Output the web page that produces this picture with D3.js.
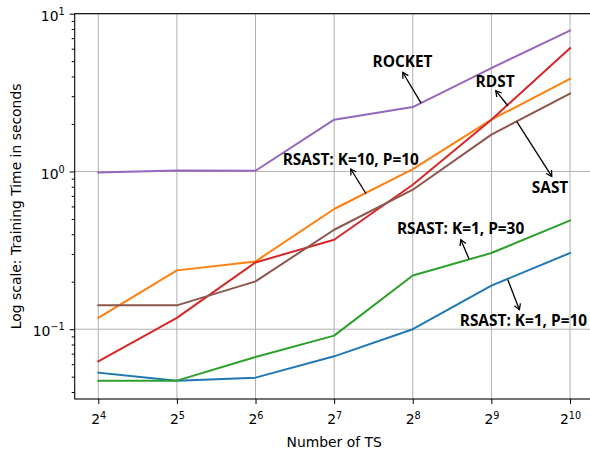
<!DOCTYPE html>
<html>
<head>
<meta charset="utf-8">
<script src="https://cdn.jsdelivr.net/npm/d3@7"></script>
<style>
  body { margin: 0; background: #fff; }
  text { font-family: "DejaVu Sans", sans-serif; }
</style>
</head>
<body>
<script>
// number of time series (x values)
var nTS = [16, 32, 64, 128, 256, 512, 1024];

// training times in seconds, one array per method
var rsastK1P10  = [0.053, 0.0472, 0.0493, 0.0673, 0.100, 0.189, 0.304];
var rsastK10P10 = [0.118, 0.236, 0.269, 0.578, 1.035, 2.13, 3.87];
var rsastK1P30  = [0.0472, 0.0472, 0.0667, 0.091, 0.219, 0.304, 0.489];
var rdst        = [0.0625, 0.118, 0.265, 0.369, 0.824, 2.13, 6.05];
var rocket      = [0.985, 1.015, 1.01, 2.13, 2.56, 4.52, 7.83];
var sast        = [0.1416, 0.1416, 0.201, 0.427, 0.766, 1.71, 3.12];

// y tick values
var yTicks = [0.1, 1, 10];

// annotations: label, point on the line, arrow head, text centre (data coords)
var annLabels = ["ROCKET", "RDST", "SAST", "RSAST: K=10, P=10", "RSAST: K=1, P=30", "RSAST: K=1, P=10"];
var annPoint  = [[2 ** 8.106, 2.71], [2 ** 9.209, 2.61], [2 ** 9.323, 2.07], [2 ** 7.406, 0.722], [2 ** 8.716, 0.2786], [2 ** 9.209, 0.206]];
var annHead   = [[2 ** 7.873, 4.24], [2 ** 9.056, 3.25], [2 ** 9.768, 0.93], [2 ** 7.211, 1.036], [2 ** 8.611, 0.369], [2 ** 9.356, 0.133]];
var annText   = [[2 ** 7.87, 4.98], [2 ** 9.047, 3.72], [2 ** 9.746, 0.796], [2 ** 7.211, 1.186], [2 ** 8.608, 0.433], [2 ** 9.407, 0.1137]];

var series = [
    {values: rsastK1P10,  color: "#1f77b4"},
    {values: rsastK10P10, color: "#ff7f0e"},
    {values: rsastK1P30,  color: "#2ca02c"},
    {values: rdst,        color: "#d62728"},
    {values: rocket,      color: "#9467bd"},
    {values: sast,        color: "#8c564b"}
];

var W = 590, H = 451;
var plotLeft = 74.7, plotRight = 593.6, plotTop = 13.7, plotBottom = 399;

// scales (5% margin on x like matplotlib)
var xScale = d3.scaleLog().base(2)
    .domain([16 * 2 ** -0.3, 1024 * 2 ** 0.3])
    .range([plotLeft, plotRight]);
var yScale = d3.scaleLog()
    .domain([0.0361, 10])
    .range([plotBottom, plotTop]);

var svg = d3.select("body").append("svg")
    .attr("width", W)
    .attr("height", H)
    .style("display", "block");

svg.append("rect").attr("width", W).attr("height", H).attr("fill", "#fff");

// grid
svg.append("g").selectAll("line").data(nTS).enter().append("line")
    .attr("x1", d => xScale(d)).attr("x2", d => xScale(d))
    .attr("y1", plotTop).attr("y2", plotBottom)
    .attr("stroke", "#b0b0b0").attr("stroke-width", 1);
svg.append("g").selectAll("line").data(yTicks).enter().append("line")
    .attr("x1", plotLeft).attr("x2", plotRight)
    .attr("y1", d => yScale(d)).attr("y2", d => yScale(d))
    .attr("stroke", "#b0b0b0").attr("stroke-width", 1);

// lines
var line = d3.line()
    .x((d, i) => xScale(nTS[i]))
    .y(d => yScale(d));

svg.append("g").selectAll("path").data(series).enter().append("path")
    .attr("d", d => line(d.values))
    .attr("fill", "none")
    .attr("stroke", d => d.color)
    .attr("stroke-width", 2)
    .attr("stroke-linejoin", "round")
    .attr("stroke-linecap", "square");

// x axis
var xAxis = d3.axisBottom(xScale).tickValues(nTS).tickSize(5).tickPadding(4).tickFormat("");
var gx = svg.append("g").attr("transform", "translate(0," + plotBottom + ")").call(xAxis);
gx.select(".domain").remove();
gx.selectAll(".tick line").attr("stroke", "#000");
gx.selectAll(".tick").append("text")
    .attr("y", 25).attr("fill", "#000")
    .attr("text-anchor", "middle")
    .style("font-size", "13.9px")
    .each(function(d) {
        var t = d3.select(this);
        t.append("tspan").text("2");
        t.append("tspan").attr("dy", -5).style("font-size", "9.7px").text(Math.log2(d));
    });

// y axis
var minor = [];
[-2, -1, 0].forEach(function(e) {
    for (var k = 2; k <= 9; k++) {
        var v = k * Math.pow(10, e);
        if (v >= 0.0361 && v <= 10) minor.push(v);
    }
});
var gyMinor = svg.append("g").attr("transform", "translate(" + plotLeft + ",0)")
    .call(d3.axisLeft(yScale).tickValues(minor).tickSize(3).tickFormat(""));
gyMinor.select(".domain").remove();

var gy = svg.append("g").attr("transform", "translate(" + plotLeft + ",0)")
    .call(d3.axisLeft(yScale).tickValues(yTicks).tickSize(5).tickFormat(""));
gy.select(".domain").remove();
gy.selectAll(".tick line").attr("stroke", "#000");
gy.selectAll(".tick").append("text")
    .attr("x", -10).attr("y", 6.6).attr("fill", "#000")
    .attr("text-anchor", "end")
    .style("font-size", "13.9px")
    .each(function(d) {
        var t = d3.select(this);
        t.append("tspan").text("10");
        t.append("tspan").attr("dy", -6).style("font-size", "9.7px")
            .text(String(Math.round(Math.log10(d))).replace("-", "\u2212"));
    });

// spines
svg.append("rect")
    .attr("x", plotLeft).attr("y", plotTop)
    .attr("width", plotRight - plotLeft).attr("height", plotBottom - plotTop)
    .attr("fill", "none").attr("stroke", "#000").attr("stroke-width", 1.1);

// axis labels
svg.append("text")
    .attr("x", (plotLeft + plotRight) / 2).attr("y", 446.5)
    .attr("text-anchor", "middle")
    .style("font-size", "13.9px")
    .text("Number of TS");
svg.append("text")
    .attr("transform", "translate(21," + (plotTop + plotBottom) / 2 + ") rotate(-90)")
    .attr("text-anchor", "middle")
    .style("font-size", "13.9px")
    .text("Log scale: Training Time in seconds");

// arrow head marker
svg.append("defs").append("marker")
    .attr("id", "head")
    .attr("markerUnits", "userSpaceOnUse")
    .attr("markerWidth", 12).attr("markerHeight", 12)
    .attr("refX", 6).attr("refY", 6)
    .attr("orient", "auto")
    .append("path")
    .attr("d", "M0.5,2.8 L6,6 L0.5,9.2")
    .attr("fill", "none").attr("stroke", "#000").attr("stroke-width", 1.3);

// annotations
var ann = svg.append("g");
annLabels.forEach(function(lab, i) {
    ann.append("line")
        .attr("x1", xScale(annPoint[i][0])).attr("y1", yScale(annPoint[i][1]))
        .attr("x2", xScale(annHead[i][0])).attr("y2", yScale(annHead[i][1]))
        .attr("stroke", "#000").attr("stroke-width", 1.3)
        .attr("marker-end", "url(#head)");
    ann.append("text")
        .attr("x", xScale(annText[i][0])).attr("y", yScale(annText[i][1]))
        .attr("dy", "0.36em")
        .attr("text-anchor", "middle")
        .style("font-family", "'Open Sans', sans-serif")
        .style("font-weight", "bold")
        .style("font-size", "15.4px")
        .text(lab);
});
</script>
</body>
</html>
